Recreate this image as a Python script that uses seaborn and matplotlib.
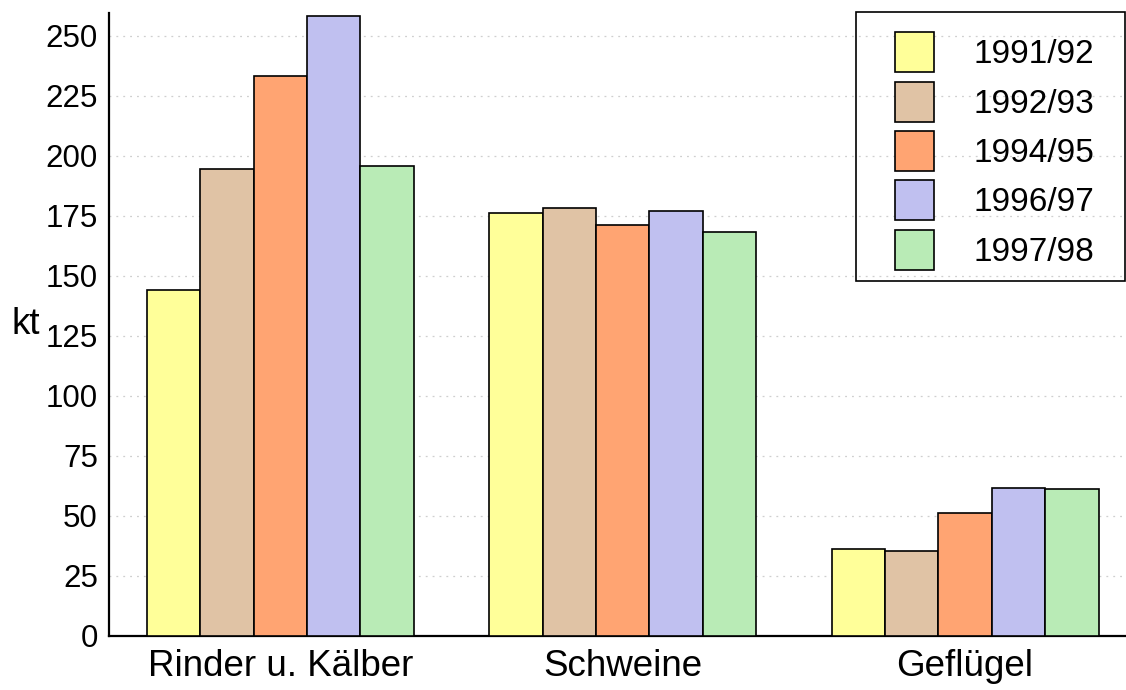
import pandas as pd
import seaborn as sns
import matplotlib.pyplot as plt
from matplotlib.patches import Rectangle

# Data (kt)
categories = ['Rinder u. Kälber', 'Schweine', 'Geflügel']
years = ['1991/92', '1992/93', '1994/95', '1996/97', '1997/98']
values_9192 = [144, 176, 36.2]
values_9293 = [194.6, 178.3, 35.1]
values_9495 = [233.2, 171, 51.2]
values_9697 = [258.4, 176.8, 61.5]
values_9798 = [195.8, 168, 61]
colors = ['#FFFF99', '#E0C3A5', '#FFA472', '#C0C0F0', '#B9EBB6']

series = [values_9192, values_9293, values_9495, values_9697, values_9798]
rows = []
for year, vals in zip(years, series):
    for cat, v in zip(categories, vals):
        rows.append({'Kategorie': cat, 'Jahr': year, 'kt': v})
df = pd.DataFrame(rows)

sns.set_style('white')
plt.rcParams['font.family'] = ['Liberation Sans', 'DejaVu Sans']
plt.rcParams['text.color'] = 'black'
plt.rcParams['axes.labelcolor'] = 'black'

fig = plt.figure(figsize=(11.26, 6.9), dpi=100)
ax = fig.add_axes([109 / 1126, 1 - 635.5 / 690, 1 - 109 / 1126, (635.5 - 13) / 690])

sns.barplot(data=df, x='Kategorie', y='kt', hue='Jahr', order=categories,
            hue_order=years, palette=colors, width=0.78, edgecolor='black',
            linewidth=1.2, saturation=1, ax=ax, zorder=3)

ax.set_xlim(-0.5, 2.47)
ax.set_ylim(0, 259.5)
ax.set_yticks(range(0, 251, 25))
ax.yaxis.grid(True, color='#cfcfcf', linestyle=(0, (1.5, 4)), linewidth=0.9, zorder=0)
ax.xaxis.grid(False)
ax.set_axisbelow(True)

for side in ['top', 'right']:
    ax.spines[side].set_visible(False)
for side in ['left', 'bottom']:
    ax.spines[side].set_color('black')
    ax.spines[side].set_linewidth(1.6)

ax.tick_params(axis='y', length=0, pad=8, labelsize=22.5, colors='black')
ax.tick_params(axis='x', length=0, pad=10, labelsize=26.5, colors='black')
ax.set_xlabel('')
ax.set_ylabel('kt', rotation=0, fontsize=26.5, ha='center', va='center', color='black')
ax.yaxis.set_label_coords(-0.0821, 0.5)

# legend: boxed, upper right
handles, labels = ax.get_legend_handles_labels()
leg = ax.legend(handles, labels, loc='upper left',
                bbox_to_anchor=(895 / 1126, 1 - 32.3 / 690), bbox_transform=fig.transFigure,
                frameon=False, fontsize=24, borderpad=0, borderaxespad=0,
                handlelength=1.17, handleheight=1.47, handletextpad=1.17,
                labelspacing=0.28)
for t in leg.get_texts():
    t.set_color('black')
fig.patches.append(Rectangle((856 / 1126, 1 - 281 / 690), (1125 - 856) / 1126,
                             (281 - 12.3) / 690, transform=fig.transFigure,
                             fill=False, edgecolor='black', linewidth=1.2))

fig.savefig('out.png', dpi=100)
